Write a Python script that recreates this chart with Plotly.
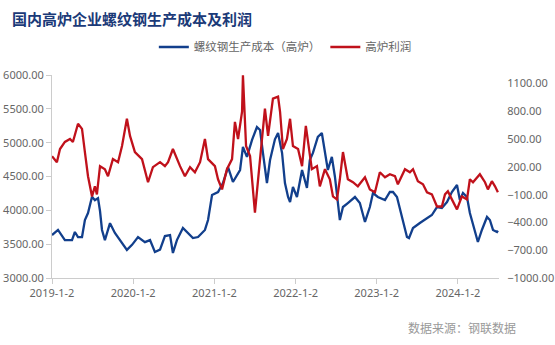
import plotly.graph_objects as go

# 螺纹钢生产成本（高炉） — left axis
cost_dates = ["2019-01-02","2019-01-29","2019-03-01","2019-04-02","2019-04-15","2019-04-29","2019-05-17","2019-05-30",
              "2019-06-13","2019-07-01","2019-07-14","2019-07-28","2019-08-06","2019-08-15","2019-08-28","2019-09-20",
              "2019-10-12","2019-11-04","2019-12-05","2019-12-28","2020-01-24","2020-02-24","2020-03-18","2020-04-09",
              "2020-05-02","2020-05-24","2020-06-16","2020-06-29","2020-07-17","2020-08-13","2020-09-05","2020-09-27",
              "2020-10-20","2020-11-20","2020-12-04","2020-12-22","2021-01-18","2021-02-09","2021-03-04","2021-03-26",
              "2021-04-27","2021-05-10","2021-05-28","2021-06-20","2021-07-12","2021-07-26","2021-08-08","2021-08-26",
              "2021-09-09","2021-10-01","2021-10-15","2021-11-02","2021-11-15","2021-11-29","2021-12-08","2021-12-21",
              "2022-01-08","2022-01-31","2022-02-22","2022-03-07","2022-03-21","2022-04-12","2022-04-30","2022-05-14",
              "2022-05-27","2022-06-14","2022-06-28","2022-07-20","2022-08-03","2022-08-25","2022-09-26","2022-10-18",
              "2022-11-10","2022-12-02","2022-12-16","2023-01-07","2023-02-08","2023-03-02","2023-03-16","2023-04-03",
              "2023-04-25","2023-05-18","2023-05-27","2023-06-14","2023-07-15","2023-08-16","2023-09-07","2023-09-30",
              "2023-10-22","2023-11-14","2023-12-06","2023-12-29","2024-01-11","2024-01-25","2024-02-12","2024-02-25",
              "2024-03-19","2024-04-01","2024-04-19","2024-05-12","2024-05-25","2024-06-08","2024-06-26","2024-06-30"]
cost_values = [3635,3710,3560,3560,3680,3605,3605,3857,
               3960,4200,4150,4180,3990,3710,3560,3810,
               3665,3560,3415,3490,3605,3530,3560,3385,
               3420,3620,3635,3370,3560,3740,3665,3590,
               3605,3710,3857,4227,4270,4404,4640,4419,
               4596,4936,4789,5040,5232,5187,4848,4404,
               4744,5050,5143,4848,4404,4197,4123,4345,
               4197,4596,4330,4744,4848,5084,5143,4848,
               4596,4789,4493,3857,4049,4108,4197,4108,
               3828,4049,4256,4197,4153,4271,4271,4197,
               3902,3605,3590,3739,3813,3887,3931,4049,
               4035,4123,4271,4375,4153,4256,4197,3961,
               3710,3532,3710,3902,3857,3710,3680,3700]

# 高炉利润 — right axis
profit_dates = ["2019-01-02","2019-01-24","2019-02-07","2019-03-01","2019-03-24","2019-04-06","2019-04-29","2019-05-17",
                "2019-05-30","2019-06-13","2019-07-01","2019-07-14","2019-07-23","2019-08-06","2019-08-28","2019-09-11",
                "2019-10-03","2019-10-26","2019-11-13","2019-12-05","2019-12-19","2020-01-10","2020-02-11","2020-03-09",
                "2020-03-31","2020-05-02","2020-05-24","2020-06-07","2020-06-29","2020-07-17","2020-07-31","2020-08-22",
                "2020-09-14","2020-10-06","2020-10-29","2020-11-20","2020-12-04","2021-01-04","2021-01-18","2021-02-05",
                "2021-02-27","2021-03-22","2021-04-04","2021-04-18","2021-05-06","2021-05-10","2021-05-24","2021-06-11",
                "2021-07-03","2021-07-26","2021-08-17","2021-08-31","2021-09-22","2021-10-15","2021-10-24","2021-11-06",
                "2021-11-24","2021-12-08","2021-12-21","2022-01-13","2022-01-31","2022-02-17","2022-02-26","2022-03-16",
                "2022-04-08","2022-04-21","2022-05-14","2022-06-05","2022-06-19","2022-07-07","2022-07-20","2022-08-03",
                "2022-08-25","2022-09-17","2022-10-09","2022-11-10","2022-12-02","2022-12-25","2023-01-16","2023-02-08",
                "2023-03-02","2023-03-25","2023-04-07","2023-05-09","2023-05-31","2023-06-14","2023-07-06","2023-07-29",
                "2023-08-16","2023-09-07","2023-09-30","2023-10-22","2023-11-05","2023-11-18","2023-12-06","2023-12-29",
                "2024-01-20","2024-02-12","2024-02-25","2024-03-10","2024-04-10","2024-05-03","2024-05-16","2024-06-03",
                "2024-06-17","2024-06-30"]
profit_values = [316,250,393,469,501,469,665,610,
                 360,99,-119,-10,-97,208,175,99,
                 284,250,425,719,534,360,284,34,
                 197,251,208,251,393,284,208,99,
                 197,142,251,501,284,208,66,-43,
                 175,284,686,501,795,1190,425,316,
                 -293,284,828,534,937,958,795,393,
                 501,719,425,393,208,643,501,175,
                 208,-10,175,66,-119,-151,66,360,
                 66,34,-10,88,-43,-75,142,88,
                 120,99,12,175,142,175,45,12,
                 -75,-97,-228,-228,-97,-64,-151,-260,
                 -119,-151,66,34,120,34,-43,45,
                 -10,-75]

tick_dates = ["2019-01-02","2020-01-02","2021-01-02","2022-01-02","2023-01-02","2024-01-02"]
tick_labels = ["2019-1-2","2020-1-2","2021-1-2","2022-1-2","2023-1-2","2024-1-2"]
left_ticks = [3000,3500,4000,4500,5000,5500,6000]
right_ticks = [-1000,-700,-400,-100,200,500,800,1100]

fig = go.Figure()
fig.add_trace(go.Scatter(x=cost_dates, y=cost_values, mode="lines", name="螺纹钢生产成本（高炉）",
                         line=dict(color="#123f8c", width=2.3), yaxis="y"))
fig.add_trace(go.Scatter(x=profit_dates, y=profit_values, mode="lines", name="高炉利润",
                         line=dict(color="#c0111b", width=2.3), yaxis="y2"))

tickfont = dict(family="Noto Sans, DejaVu Sans, sans-serif", size=11, color="#666666")

fig.update_layout(
    width=555, height=345,
    margin=dict(l=52, r=56, t=75, b=67, autoexpand=False),
    paper_bgcolor="white", plot_bgcolor="white",
    title=dict(text="<b>国内高炉企业螺纹钢生产成本及利润</b>",
               font=dict(family="Noto Sans CJK SC", size=15, color="#1b3a78"),
               x=12/555, xanchor="left", y=1-20/345, yanchor="middle"),
    showlegend=True,
    legend=dict(orientation="h", x=0.522, xanchor="center", y=1.138, yanchor="middle",
                font=dict(family="Noto Sans CJK SC", size=11.5, color="#666666"),
                bgcolor="rgba(0,0,0,0)", itemwidth=30, tracegroupgap=0),
    xaxis=dict(type="date", range=["2019-01-02", "2024-07-05"], automargin=False,
               tickvals=tick_dates, ticktext=tick_labels,
               showgrid=False, zeroline=False,
               showline=True, linecolor="#cccccc", linewidth=1,
               ticks="outside", ticklen=5, tickcolor="#cccccc",
               tickfont=tickfont),
    yaxis=dict(range=[3000, 6000], tickvals=left_ticks, automargin=False,
               tickformat=".2f", showgrid=False, zeroline=False,
               showline=True, linecolor="#cccccc", linewidth=1,
               ticks="outside", ticklen=5, tickcolor="#cccccc",
               tickfont=tickfont),
    yaxis2=dict(range=[-1000, 1192], tickvals=right_ticks, overlaying="y", side="right",
                automargin=False,
                tickformat=".2f", showgrid=False, zeroline=False, showline=False,
                ticks="outside", ticklen=5, tickcolor="rgba(0,0,0,0)",
                tickfont=tickfont),
    annotations=[dict(text="数据来源：钢联数据", xref="paper", yref="paper",
                      x=(518-52)/447, xanchor="right", y=-(327-278)/203, yanchor="middle",
                      showarrow=False,
                      font=dict(family="Noto Sans CJK SC", size=12, color="#999999"))],
)

fig.write_html("out.html")
